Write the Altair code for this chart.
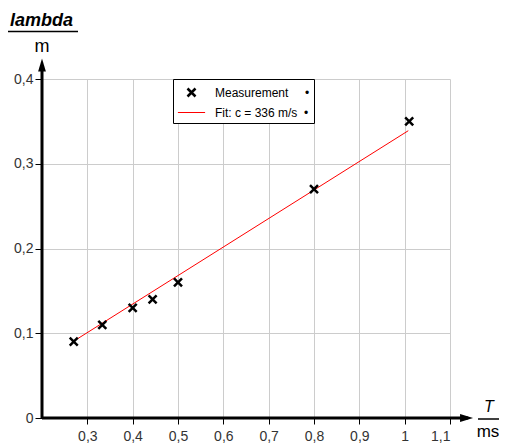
import altair as alt
import pandas as pd

# ---- data ----
T_ms = [0.27, 0.333, 0.40, 0.444, 0.50, 0.80, 1.01]
lambda_m = [0.09, 0.11, 0.13, 0.14, 0.16, 0.27, 0.35]
fit_T = [0.268, 1.008]
fit_lambda = [0.090, 0.339]
series_names = ["Measurement", "Fit: c = 336 m/s"]
x_ticks = [0.3, 0.4, 0.5, 0.6, 0.7, 0.8, 0.9, 1.0, 1.1]
y_ticks = [0.0, 0.1, 0.2, 0.3, 0.4]

FONT = "Liberation Sans"

meas = pd.DataFrame({"T": T_ms, "lam": lambda_m, "series": series_names[0]})
fit = pd.DataFrame({"T": fit_T, "lam": fit_lambda, "series": series_names[1]})

XPATH = "M-0.5,-0.5L0.5,0.5M0.5,-0.5L-0.5,0.5"
LINEPATH = "M-1.7,0L1.7,0"

xs = alt.Scale(domain=[0.2, 1.1], nice=False, zero=False)
ys = alt.Scale(domain=[0, 0.4], nice=False, zero=False)

label_expr = "replace(format(datum.value, '~g'), '.', ',')"

x_axis = alt.Axis(title="", values=x_ticks, labelExpr=label_expr, domain=False,
                  grid=True, gridColor="#cccccc", gridWidth=1,
                  tickColor="black", tickSize=6, tickWidth=1,
                  labelFont=FONT, labelFontSize=14, labelColor="#333333",
                  labelPadding=5)
y_axis = alt.Axis(title="", values=y_ticks, labelExpr=label_expr, domain=False,
                  grid=True, gridColor="#cccccc", gridWidth=1,
                  tickColor="black", tickSize=7, tickWidth=1,
                  labelFont=FONT, labelFontSize=14, labelColor="#333333",
                  labelPadding=2)

legend = alt.Legend(title=None, orient="none", legendX=131, legendY=0,
                    padding=4, strokeColor="black", fillColor="white",
                    labelFont=FONT, labelFontSize=12, labelColor="black",
                    rowPadding=2, symbolSize=256, symbolOffset=5, labelOffset=14,
                    labelExpr="datum.label == 'Measurement' ? datum.label + '\u00a0\u00a0\u00a0\u00a0\u00a0\u2022' : datum.label + '\u00a0\u00a0\u2022'")

color = alt.Color("series:N", scale=alt.Scale(domain=series_names, range=["black", "#ff0000"]), legend=legend)
shape = alt.Shape("series:N", scale=alt.Scale(domain=series_names, range=[XPATH, LINEPATH]), legend=legend)
swidth = alt.StrokeWidth("series:N", scale=alt.Scale(domain=series_names, range=[2.5, 1]), legend=legend)

X = alt.X("T:Q", scale=xs, axis=x_axis)
Y = alt.Y("lam:Q", scale=ys, axis=y_axis)

line = alt.Chart(fit).mark_line().encode(x=X, y=Y, color=color, strokeWidth=swidth)
points = alt.Chart(meas).mark_point(filled=False, size=256, opacity=1).encode(
    x=X, y=Y, color=color, shape=shape, strokeWidth=swidth)

# axis lines with arrows
xaxis_line = alt.Chart(pd.DataFrame({"T": [0.2], "T2": [1.14], "lam": [0.0]})).mark_rule(
    color="black", strokeWidth=3).encode(x=X, x2="T2:Q", y=Y)
yaxis_line = alt.Chart(pd.DataFrame({"T": [0.2], "lam": [0.0], "lam2": [0.415]})).mark_rule(
    color="black", strokeWidth=3).encode(x=X, y=Y, y2="lam2:Q")
x_arrow = alt.Chart(pd.DataFrame({"T": [1.1365], "lam": [0.0]})).mark_point(
    shape="M-1,-0.6L1,0L-1,0.6Z", filled=True, size=169, color="black", opacity=1).encode(x=X, y=Y)
y_arrow = alt.Chart(pd.DataFrame({"T": [0.2], "lam": [0.4165]})).mark_point(
    shape="M-0.6,1L0,-1L0.6,1Z", filled=True, size=169, color="black", opacity=1).encode(x=X, y=Y)

# axis titles drawn as fractions
lam_title = alt.Chart().mark_text(text="lambda", font=FONT, fontSize=18, fontStyle="italic",
                                  fontWeight="bold", align="left", baseline="alphabetic").encode(
    x=alt.value(-32), y=alt.value(-53))
lam_bar = alt.Chart().mark_rule(color="black", strokeWidth=1.5).encode(
    x=alt.value(-35), x2=alt.value(36), y=alt.value(-47.5))
lam_unit = alt.Chart().mark_text(text="m", font=FONT, fontSize=18, align="center",
                                 baseline="alphabetic").encode(x=alt.value(0), y=alt.value(-27))
t_title = alt.Chart().mark_text(text="T", font=FONT, fontSize=16, fontStyle="italic",
                                align="center", baseline="alphabetic").encode(x=alt.value(447), y=alt.value(333))
t_bar = alt.Chart().mark_rule(color="black", strokeWidth=1.5).encode(
    x=alt.value(436), x2=alt.value(460), y=alt.value(340))
t_unit = alt.Chart().mark_text(text="ms", font=FONT, fontSize=17, align="center",
                               baseline="alphabetic").encode(x=alt.value(446), y=alt.value(358))

chart = alt.layer(
    line, points, xaxis_line, yaxis_line, x_arrow, y_arrow,
    lam_title, lam_bar, lam_unit, t_title, t_bar, t_unit
).properties(
    width=408, height=339,
    padding={"left": 34, "top": 71, "right": 49, "bottom": 26},
    autosize=alt.AutoSizeParams(type="none"),
    background="white",
).configure_view(strokeWidth=0)

chart.save("out.html", embed_options={"renderer": "svg", "actions": False})
